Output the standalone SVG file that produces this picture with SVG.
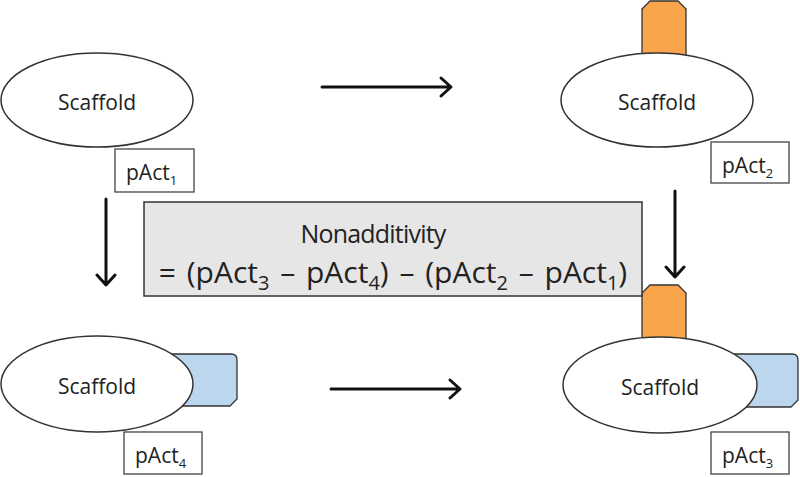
<svg xmlns="http://www.w3.org/2000/svg" width="800" height="477" viewBox="0 0 800 477">
<style>
.ell{fill:#fff;stroke:#333;stroke-width:1.5}
.lbl{fill:#fff;stroke:#444;stroke-width:1.3}
.t{font-family:"Open Sans","Liberation Sans",sans-serif;fill:#222}
.orange{fill:#F8A54B;stroke:#333;stroke-width:1.3}
.blue{fill:#BCD6EE;stroke:#333;stroke-width:1.3}
.arr{fill:none;stroke:#111;stroke-width:3;stroke-linecap:round;stroke-linejoin:round}
</style>
<rect width="800" height="477" fill="#fff"/>
<g id="connectors">
<path class="arr" d="M322,87 H450 M441,78 L451,87 L441,96"/>
<path class="arr" d="M331,389 H459 M450,380 L460,389 L450,398"/>
<path class="arr" d="M106,199 V284 M97,275 L106,285 L115,275"/>
<path class="arr" d="M675,191 V276 M666,267 L675,277 L684,267"/>
</g>
<g id="node1">
<ellipse class="ell" cx="97" cy="100" rx="96" ry="47"/>
<text class="t" x="97" y="110" font-size="21" text-anchor="middle">Scaffold</text>
<rect class="lbl" x="115" y="149" width="79" height="43"/>
<text class="t" x="126" y="180" font-size="21">pAct<tspan font-size="13" dy="5">1</tspan></text>
</g>
<g id="node2">
<path class="orange" d="M642,70 V9 L650,1 H678 L686,9 V70 Z"/>
<ellipse class="ell" cx="657" cy="100" rx="96" ry="47"/>
<text class="t" x="657" y="110" font-size="21" text-anchor="middle">Scaffold</text>
<rect class="lbl" x="711" y="142" width="78" height="41"/>
<text class="t" x="722" y="173" font-size="21">pAct<tspan font-size="13" dy="5">2</tspan></text>
</g>
<g id="node4">
<path class="blue" d="M160,354 H231 Q237,354 237,360 V399 L230,406 H160 Z"/>
<ellipse class="ell" cx="97" cy="384" rx="96" ry="48"/>
<text class="t" x="97" y="394" font-size="21" text-anchor="middle">Scaffold</text>
<rect class="lbl" x="124" y="432" width="78" height="42"/>
<text class="t" x="135" y="463" font-size="21">pAct<tspan font-size="13" dy="5">4</tspan></text>
</g>
<g id="node3">
<path class="orange" d="M642,350 V293 L650,285 H678 L686,293 V350 Z"/>
<path class="blue" d="M720,354 H792 Q798,354 798,360 V400 L791,407 H720 Z"/>
<ellipse class="ell" cx="660" cy="385" rx="97" ry="48"/>
<text class="t" x="660" y="395" font-size="21" text-anchor="middle">Scaffold</text>
<rect class="lbl" x="711" y="432" width="78" height="42"/>
<text class="t" x="722" y="463" font-size="21">pAct<tspan font-size="13" dy="5">3</tspan></text>
</g>
<g id="formula">
<rect x="144" y="202" width="498" height="94" fill="#E6E6E6" stroke="#333" stroke-width="1.5"/>
<text class="t" x="373" y="243" font-size="25" letter-spacing="-0.8" text-anchor="middle">Nonadditivity</text>
<text class="t" x="393" y="283" font-size="30" word-spacing="3" text-anchor="middle">= (pAct<tspan font-size="20" dy="7">3</tspan><tspan dy="-7"> – pAct</tspan><tspan font-size="20" dy="7">4</tspan><tspan dy="-7">) – (pAct</tspan><tspan font-size="20" dy="7">2</tspan><tspan dy="-7"> – pAct</tspan><tspan font-size="20" dy="7">1</tspan><tspan dy="-7">)</tspan></text>
</g>
</svg>
